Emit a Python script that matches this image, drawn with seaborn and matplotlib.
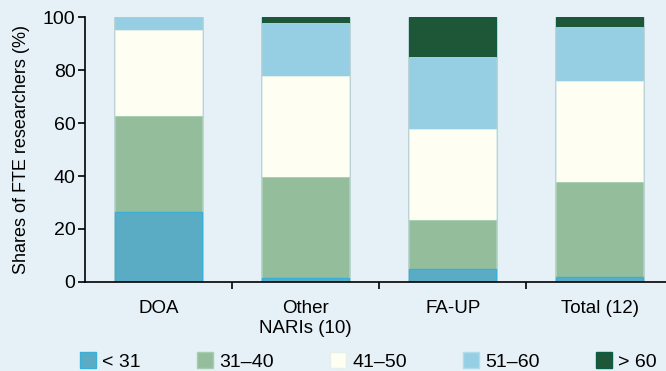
import matplotlib
matplotlib.use("Agg")
import matplotlib.pyplot as plt
from matplotlib.patches import Patch
import seaborn as sns
import pandas as pd
import numpy as np

categories = ['DOA', 'Other\nNARIs (10)', 'FA-UP', 'Total (12)']
age_groups = ['< 31', '31–40', '41–50', '51–60', '> 60']
under_31 = [26.5, 1.5, 4.8, 2.0]
age_31_40 = [36.0, 38.0, 18.6, 35.8]
age_41_50 = [32.6, 38.2, 34.3, 37.9]
age_51_60 = [4.9, 19.9, 27.3, 20.6]
over_60 = [0.0, 2.4, 15.0, 3.7]

fills = ['#5aacc4', '#94bd9c', '#fefef2', '#96cfe3', '#1e5638']
edges = ['#3aafd9', '#a6cdb0', '#e4f0ec', '#b0dceb', '#0d5c45']
bg = '#e6f1f7'

plt.rcParams['font.family'] = ['Liberation Sans', 'DejaVu Sans']

series = [under_31, age_31_40, age_41_50, age_51_60, over_60]
df = pd.DataFrame(np.array(series).T, columns=age_groups)
df['category'] = categories
cum = df[age_groups].cumsum(axis=1)

fig = plt.figure(figsize=(6.66, 3.71), dpi=100, facecolor=bg)
ax = fig.add_axes([0.128, 0.24, 0.883, 0.714])
ax.set_facecolor(bg)

# stack by drawing cumulative totals from the top group down
for i in reversed(range(len(age_groups))):
    sns.barplot(x=df['category'], y=cum[age_groups[i]], color=fills[i],
                saturation=1, width=0.59, edgecolor=edges[i],
                linewidth=1.0 if i in (0, 4) else 0.6, ax=ax)

ax.set_xlim(-0.5, 3.5)
ax.set_ylim(0, 100)
ax.set_yticks([0, 20, 40, 60, 80, 100])
ax.tick_params(axis='y', labelsize=14, length=5, width=1.2, pad=2)
ax.tick_params(axis='x', which='major', labelsize=13.5, length=0, pad=13)
ax.set_xticks([0.5, 1.5, 2.5], minor=True)
ax.tick_params(axis='x', which='minor', length=5, width=1.2)
ax.set_xlabel('')
ax.set_ylabel('Shares of FTE researchers (%)', fontsize=13, labelpad=9)
for s in ['top', 'right']:
    ax.spines[s].set_visible(False)
for s in ['left', 'bottom']:
    ax.spines[s].set_linewidth(1.2)

handles = [Patch(facecolor=fills[i], edgecolor=edges[i], linewidth=1.0)
           for i in range(len(age_groups))]
fig.legend(handles, age_groups, loc='lower left', ncol=5, frameon=False,
           bbox_to_anchor=(0.108, -0.02, 0.89, 0.08), mode='expand',
           fontsize=14, handlelength=0.85, handleheight=0.85, handletextpad=0.3,
           borderaxespad=0)

fig.savefig('out.png', dpi=100, facecolor=bg)
